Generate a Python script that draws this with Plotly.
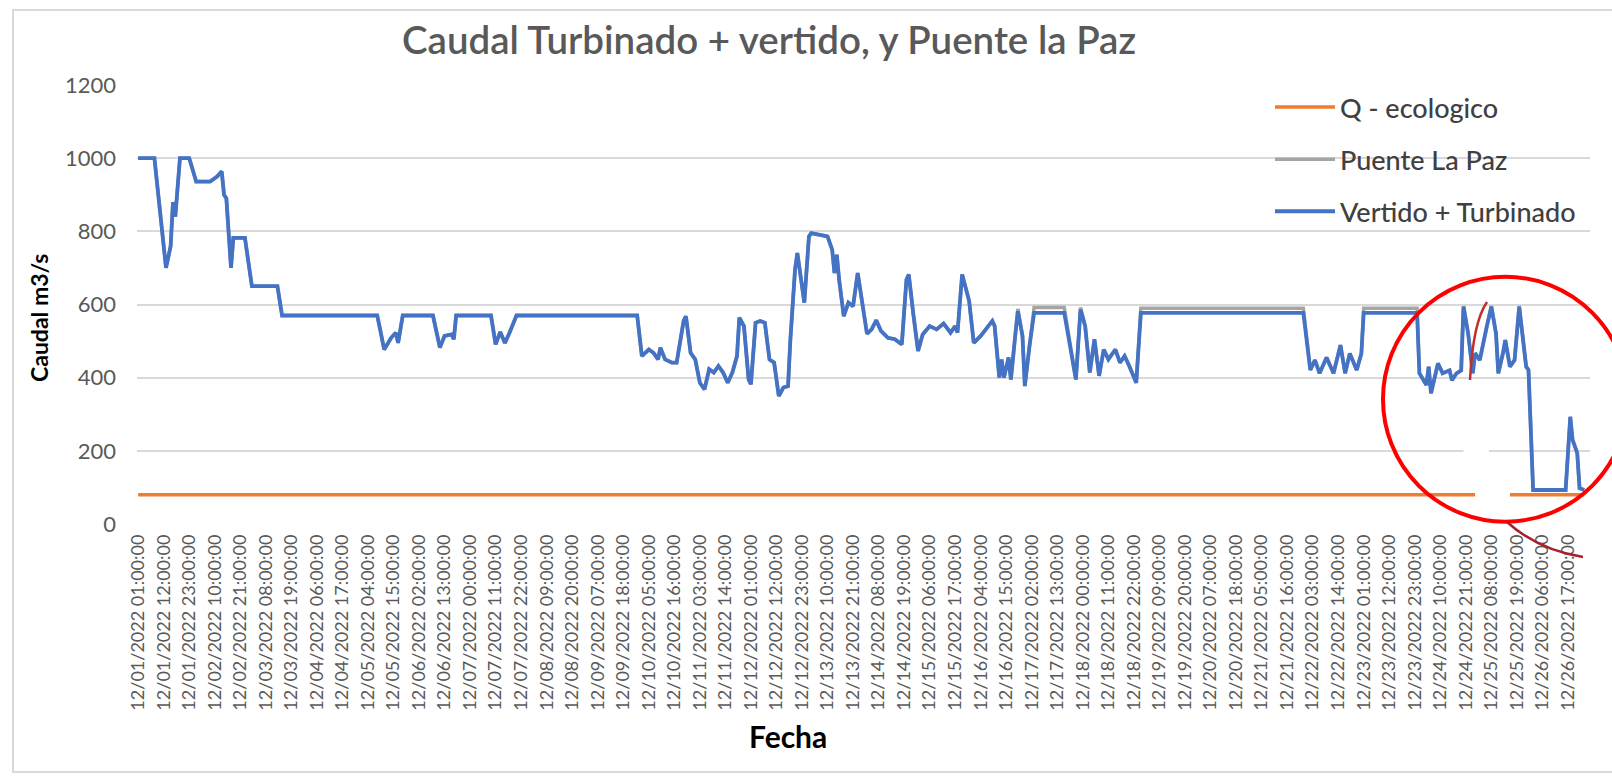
import pandas as pd
import plotly.graph_objects as go

# ---------------- data ----------------
start = pd.Timestamp("2022-12-01 01:00:00")

# hours elapsed since 12/01/2022 01:00:00
hours = [
    0, 7, 12, 14, 15, 16, 18, 22, 25, 31,
    34, 36, 37, 38, 40, 41, 46, 49, 60, 62,
    103, 106, 109, 111, 112, 114, 127, 130, 132, 135,
    136, 137, 152, 154, 156, 158, 160, 163, 215, 217,
    220, 222, 224, 225, 227, 230, 232, 235, 236, 238,
    240, 242, 244, 246, 248, 250, 252, 254, 256, 258,
    259, 261, 263, 264, 266, 268, 270, 272, 274, 276,
    278, 280, 281, 283, 284, 287, 289, 290, 297, 299,
    300, 301, 302, 304, 306, 308, 310, 314, 316, 318,
    320, 323, 326, 329, 331, 332, 334, 336, 338, 341,
    344, 347, 350, 352, 353, 355, 358, 360, 363, 365,
    368, 369, 371, 372, 373, 375, 376, 378, 379, 381,
    382, 384, 386, 399, 402, 404, 406, 408, 410, 412,
    414, 416, 418, 421, 423, 425, 427, 430, 432, 502,
    505, 507, 509, 512, 515, 518, 520, 522, 525, 527,
    528, 551, 552, 555, 556, 557, 559, 560, 562, 565,
    566, 568, 570, 571, 573, 575, 576, 578, 581, 583,
    585, 586, 588, 589, 591, 593, 595, 597, 598, 599,
    601, 615, 617, 618, 620, 621, 623,
]

vertido = [
    1000, 1000, 700, 760, 880, 840, 1000, 1000, 936, 936,
    950, 964, 900, 890, 700, 782, 782, 650, 650, 570,
    570, 477, 509, 523, 495, 570, 570, 482, 514, 518,
    505, 570, 570, 491, 525, 495, 523, 570, 570, 459,
    477, 468, 450, 482, 450, 441, 441, 555, 568, 468,
    450, 386, 368, 423, 414, 432, 414, 386, 414, 459,
    564, 541, 395, 382, 550, 555, 550, 450, 441, 350,
    373, 377, 505, 695, 741, 605, 786, 795, 786, 750,
    686, 736, 668, 568, 605, 595, 686, 520, 532, 557,
    528, 509, 505, 491, 668, 682, 572, 473, 518, 541,
    532, 548, 523, 541, 523, 682, 610, 495, 514, 530,
    555, 541, 400, 450, 400, 455, 395, 523, 582, 514,
    377, 486, 577, 577, 468, 395, 586, 541, 414, 505,
    405, 477, 450, 477, 441, 459, 432, 386, 577, 577,
    421, 448, 412, 455, 412, 489, 412, 466, 421, 466,
    577, 577, 412, 380, 430, 357, 412, 439, 412, 420,
    393, 412, 420, 594, 521, 412, 467, 448, 539, 594,
    521, 412, 467, 503, 430, 448, 594, 485, 430, 421,
    93, 93, 293, 230, 194, 98, 93,
]

puente = [
    1000, 1000, 700, 760, 880, 840, 1000, 1000, 936, 936,
    950, 964, 900, 890, 700, 782, 782, 650, 650, 570,
    570, 477, 509, 523, 495, 570, 570, 482, 514, 518,
    505, 570, 570, 491, 525, 495, 523, 570, 570, 459,
    477, 468, 450, 482, 450, 441, 441, 555, 568, 468,
    450, 386, 368, 423, 414, 432, 414, 386, 414, 459,
    564, 541, 395, 382, 550, 555, 550, 450, 441, 350,
    373, 377, 505, 695, 741, 605, 786, 795, 786, 750,
    686, 736, 668, 568, 605, 595, 686, 520, 532, 557,
    528, 509, 505, 491, 668, 682, 572, 473, 518, 541,
    532, 548, 523, 541, 523, 682, 610, 495, 514, 530,
    555, 541, 400, 450, 400, 455, 395, 523, 588, 514,
    377, 486, 592, 592, 468, 395, 592, 541, 414, 505,
    405, 477, 450, 477, 441, 459, 432, 386, 590, 590,
    421, 448, 412, 455, 412, 489, 412, 466, 421, 466,
    590, 590, 412, 380, 430, 357, 412, 439, 412, 420,
    393, 412, 420, 596, 521, 412, 467, 448, 539, 596,
    521, 412, 467, 503, 430, 448, 596, 485, 430, 421,
    93, 93, 293, 230, 194, 98, 93,
]

q_hours = [0, 576, 583, 591, 623]
q_eco = [80, 80, None, 80, 80]

tick_labels = [
    "12/01/2022 01:00:00", "12/01/2022 12:00:00", "12/01/2022 23:00:00",
    "12/02/2022 10:00:00", "12/02/2022 21:00:00", "12/03/2022 08:00:00",
    "12/03/2022 19:00:00", "12/04/2022 06:00:00", "12/04/2022 17:00:00",
    "12/05/2022 04:00:00", "12/05/2022 15:00:00", "12/06/2022 02:00:00",
    "12/06/2022 13:00:00", "12/07/2022 00:00:00", "12/07/2022 11:00:00",
    "12/07/2022 22:00:00", "12/08/2022 09:00:00", "12/08/2022 20:00:00",
    "12/09/2022 07:00:00", "12/09/2022 18:00:00", "12/10/2022 05:00:00",
    "12/10/2022 16:00:00", "12/11/2022 03:00:00", "12/11/2022 14:00:00",
    "12/12/2022 01:00:00", "12/12/2022 12:00:00", "12/12/2022 23:00:00",
    "12/13/2022 10:00:00", "12/13/2022 21:00:00", "12/14/2022 08:00:00",
    "12/14/2022 19:00:00", "12/15/2022 06:00:00", "12/15/2022 17:00:00",
    "12/16/2022 04:00:00", "12/16/2022 15:00:00", "12/17/2022 02:00:00",
    "12/17/2022 13:00:00", "12/18/2022 00:00:00", "12/18/2022 11:00:00",
    "12/18/2022 22:00:00", "12/19/2022 09:00:00", "12/19/2022 20:00:00",
    "12/20/2022 07:00:00", "12/20/2022 18:00:00", "12/21/2022 05:00:00",
    "12/21/2022 16:00:00", "12/22/2022 03:00:00", "12/22/2022 14:00:00",
    "12/23/2022 01:00:00", "12/23/2022 12:00:00", "12/23/2022 23:00:00",
    "12/24/2022 10:00:00", "12/24/2022 21:00:00", "12/25/2022 08:00:00",
    "12/25/2022 19:00:00", "12/26/2022 06:00:00", "12/26/2022 17:00:00",
]

# ---------------- build ----------------
def t(h):
    return start + pd.Timedelta(hours=h)

x_main = [t(h) for h in hours]
x_q = [t(h) for h in q_hours]
tick_vals = list(pd.to_datetime(tick_labels, format="%m/%d/%Y %H:%M:%S"))

FONT = "Lato"
W, H = 1612, 776
L, R, T, B = 137, 1590, 85, 524  # plot area in pixels


def px(x):
    return (x - L) / (R - L)


def py(y):
    return (B - y) / (B - T)


fig = go.Figure()
fig.add_trace(go.Scatter(
    x=x_q, y=q_eco, mode="lines", name="Q - ecologico",
    line=dict(color="#ED7D31", width=3.5), legendgroup="a",
    connectgaps=False,
))
fig.add_trace(go.Scatter(
    x=x_main, y=puente, mode="lines", name="Puente La Paz",
    line=dict(color="#A5A5A5", width=3.5), legendgroup="b",
))
fig.add_trace(go.Scatter(
    x=x_main, y=vertido, mode="lines", name="Vertido + Turbinado",
    line=dict(color="#4472C4", width=3.8), legendgroup="c",
))

shapes = [
    # chart border
    dict(type="rect", xref="paper", yref="paper",
         x0=px(13), x1=px(1640), y0=py(772), y1=py(10),
         line=dict(color="#D9D9D9", width=2), fillcolor="rgba(0,0,0,0)",
         layer="above"),
    # legend area hides gridlines
    dict(type="rect", xref="paper", yref="paper",
         x0=px(1252), x1=px(1596), y0=py(242), y1=py(78),
         line=dict(width=0), fillcolor="white", layer="between"),
    # small gap in the 200 gridline
    dict(type="rect", xref="x", yref="y",
         x0=t(571), x1=t(582), y0=185, y1=215,
         line=dict(width=0), fillcolor="white", layer="between"),
    # red circle
    dict(type="circle", xref="paper", yref="paper",
         x0=px(1383), x1=px(1628), y0=py(521.7), y1=py(276.7),
         line=dict(color="#FF0000", width=4), layer="above"),
    # red hand-drawn strokes
    dict(type="path", xref="paper", yref="paper",
         path=f"M {px(1470)},{py(380)} Q {px(1473)},{py(322)} {px(1487)},{py(302)}",
         line=dict(color="#C0302A", width=2.5), layer="above"),
    dict(type="path", xref="paper", yref="paper",
         path=f"M {px(1507)},{py(522)} Q {px(1538)},{py(550)} {px(1583)},{py(557)}",
         line=dict(color="#A8202C", width=2.5), layer="above"),
]

annotations = [
    dict(text="<b>Caudal m3/s</b>", xref="paper", yref="paper",
         x=px(39), y=py(318), textangle=-90, showarrow=False,
         font=dict(family=FONT, size=23, color="#000000"),
         xanchor="center", yanchor="middle"),
    dict(text="<b>Fecha</b>", xref="paper", yref="paper",
         x=px(788), y=py(736), showarrow=False,
         font=dict(family=FONT, size=30, color="#000000"),
         xanchor="center", yanchor="middle"),
]

fig.update_layout(
    width=W, height=H,
    margin=dict(l=L, r=W - R, t=T, b=H - B),
    paper_bgcolor="white", plot_bgcolor="white",
    font=dict(family=FONT, color="#595959"),
    title=dict(text="Caudal Turbinado + vertido, y Puente la Paz",
               xref="paper", x=px(769), xanchor="center",
               yref="container", y=1 - 41 / H, yanchor="middle",
               font=dict(family=FONT, size=38.5, color="#595959", weight=600)),
    showlegend=True,
    legend=dict(x=px(1270), y=py(83), xanchor="left", yanchor="top",
                bgcolor="rgba(0,0,0,0)", traceorder="grouped",
                tracegroupgap=14, itemwidth=60,
                font=dict(family=FONT, size=27, color="#404040", weight=500)),
    shapes=shapes,
    annotations=annotations,
)

fig.update_xaxes(
    type="date",
    range=[t(-0.5), t(625.5)],
    tickmode="array", tickvals=tick_vals, ticktext=tick_labels,
    tickangle=-90, showgrid=False, zeroline=False,
    showline=False, ticks="",
    tickfont=dict(family=FONT, size=18, color="#595959"),
    ticklabelstandoff=6,
)
fig.update_yaxes(
    range=[0, 1200], dtick=200, tick0=0,
    showgrid=True, gridcolor="#D9D9D9", gridwidth=2,
    zeroline=False, showline=False, ticks="",
    tickfont=dict(family=FONT, size=22, color="#595959"),
    ticklabelstandoff=20,
)

# remove the default 8px page margin so the figure sits at the window origin
fig.write_html("out.html", config={"displayModeBar": False},
               post_script="document.body.style.margin='0';")
